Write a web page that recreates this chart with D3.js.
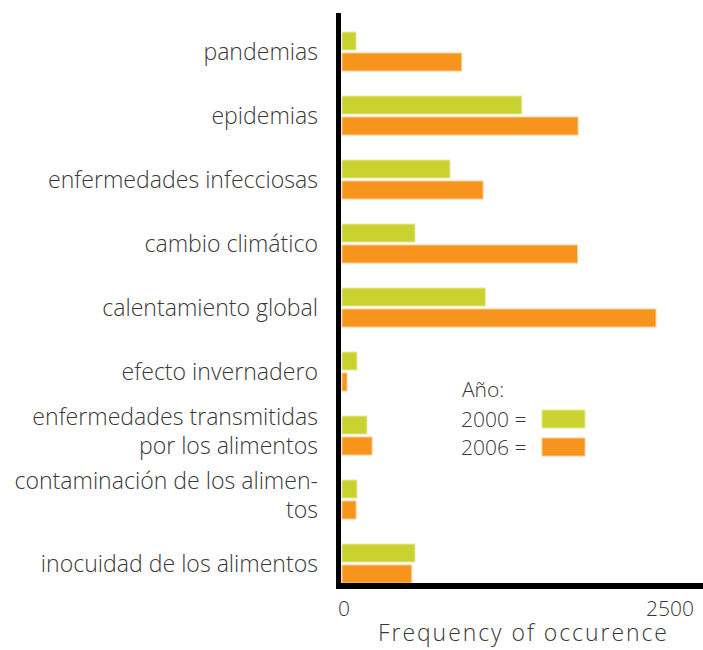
<!DOCTYPE html>
<html>
<head>
<meta charset="utf-8">
<script src="https://cdn.jsdelivr.net/npm/d3@7"></script>
<style>
  body { margin: 0; background: #fff; }
  svg { display: block; font-family: "Open Sans", "DejaVu Sans", sans-serif; font-weight: 300; }
</style>
</head>
<body>
<svg id="chart" width="703" height="650"></svg>
<script>
// categories, top to bottom ("\n" = line break in label)
var categories = [
  "pandemias",
  "epidemias",
  "enfermedades infecciosas",
  "cambio climático",
  "calentamiento global",
  "efecto invernadero",
  "enfermedades transmitidas\npor los alimentos",
  "contaminación de los alimen-\ntos",
  "inocuidad de los alimentos"
];
var years = ["2000", "2006"];
var values2000 = [107, 1370, 823, 556, 1092, 114, 190, 114, 556];
var values2006 = [912, 1799, 1075, 1795, 2393, 38, 229, 107, 531];
var xTicks = [0, 2500];
var yearColors = ["#c9d22f", "#f7941e"];
var yearStroke = ["#e4ea9a", "#fbcb8f"];

var svg = d3.select("#chart");
var textColor = "#383838";

var x = d3.scaleLinear().domain([0, 2500]).range([342, 670]);

// 64px per group, 39px of bars, first bar at y=32
var y = d3.scaleBand()
  .domain(categories)
  .range([19.5, 595.5])
  .paddingInner(25 / 64)
  .paddingOuter(12.5 / 64);

var yInner = d3.scaleBand()
  .domain(years)
  .range([0, y.bandwidth()])
  .paddingInner(3 / 21);

var rows = categories.map(function (c, i) {
  return { cat: c, vals: [values2000[i], values2006[i]] };
});

var groups = svg.append("g")
  .selectAll("g")
  .data(rows)
  .enter()
  .append("g")
  .attr("transform", function (d) { return "translate(0," + y(d.cat) + ")"; });

groups.selectAll("rect")
  .data(function (d) { return d.vals.map(function (v, k) { return { year: years[k], v: v, k: k }; }); })
  .enter()
  .append("rect")
  .attr("x", x(0))
  .attr("y", function (d) { return yInner(d.year); })
  .attr("width", function (d) { return x(d.v) - x(0); })
  .attr("height", yInner.bandwidth())
  .attr("fill", function (d) { return yearColors[d.k]; })
  .attr("stroke", function (d) { return yearStroke[d.k]; })
  .attr("stroke-width", 1);

// category labels, right aligned
var labelSize = 19;
var labels = groups.append("text")
  .attr("text-anchor", "end")
  .attr("fill", textColor)
  .style("font-size", labelSize + "px")
  .each(function (d) {
    var lines = d.cat.split("\n");
    var mid = y.bandwidth() / 2;
    var t = d3.select(this);
    lines.forEach(function (line, j) {
      var base = lines.length === 1 ? mid + 8 : mid - 11 + j * 29;
      t.append("tspan")
        .attr("x", 318)
        .attr("y", base)
        .text(line);
    });
  });

// fit font size so the widest one-line label matches the reference width
var probe = labels.filter(function (d) { return d.cat === "enfermedades infecciosas"; }).node();
if (probe) {
  var w = probe.getComputedTextLength();
  var fitted = labelSize * 270 / w;
  labels.style("font-size", fitted + "px");
}

// axes: thick black lines
svg.append("line")
  .attr("x1", 338.5).attr("x2", 338.5)
  .attr("y1", 13).attr("y2", 589)
  .attr("stroke", "#000").attr("stroke-width", 5);

svg.append("line")
  .attr("x1", 336).attr("x2", 703)
  .attr("y1", 586).attr("y2", 586)
  .attr("stroke", "#000").attr("stroke-width", 6);

// tick labels
svg.append("g")
  .selectAll("text")
  .data(xTicks)
  .enter()
  .append("text")
  .attr("x", function (d) { return x(d) + (d === 0 ? 2 : 0); })
  .attr("y", 616)
  .attr("text-anchor", "middle")
  .attr("fill", textColor)
  .style("font-size", "21px")
  .text(function (d) { return d; });

svg.append("text")
  .attr("x", 378)
  .attr("y", 641)
  .attr("textLength", 289)
  .attr("lengthAdjust", "spacing")
  .attr("fill", textColor)
  .style("font-size", "23px")
  .text("Frequency of occurence");

// legend
var legend = svg.append("g").attr("fill", textColor).style("font-size", "21px");
legend.append("text").attr("x", 462).attr("y", 397).text("Año:");
legend.selectAll("g.item")
  .data(years)
  .enter()
  .append("g")
  .attr("class", "item")
  .each(function (d, i) {
    var g = d3.select(this);
    var top = 410 + i * 28;
    g.append("text").attr("x", 461).attr("y", top + 17).text(d + " =");
    g.append("rect")
      .attr("x", 542).attr("y", top)
      .attr("width", 43).attr("height", 18)
      .attr("fill", yearColors[i])
      .attr("stroke", yearStroke[i]);
  });
</script>
</body>
</html>
